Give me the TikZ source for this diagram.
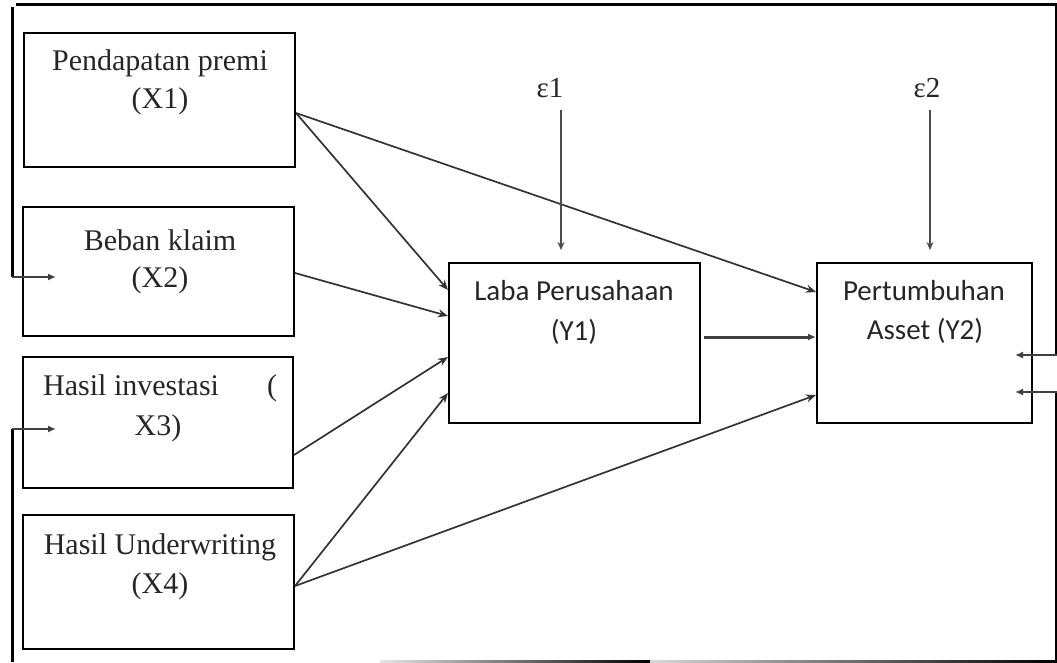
\documentclass[tikz,border=0pt]{standalone}
\usepackage{fontspec}
\setmainfont{Liberation Serif}
\newfontfamily\calibrifont{Carlito}
\usetikzlibrary{arrows.meta}
\begin{document}
\begin{tikzpicture}[x=1pt,y=-1pt,
  box/.style={draw=black, line width=2pt, inner sep=0pt},
  lbl/.style={anchor=base, inner sep=0pt, text=black!85, font=\fontsize{30}{36}\selectfont},
  ylbl/.style={anchor=base, inner sep=0pt, text=black!85, font=\calibrifont\fontsize{29}{35}\selectfont},
  arr/.style={-{Stealth[length=10pt,width=8pt]}, line width=1.7pt, draw=black!80},
  earr/.style={-{Stealth[length=8pt,width=7pt]}, line width=1.4pt, draw=black!70},
  sarr/.style={-{Latex[length=8pt,width=7pt]}, line width=2.2pt, draw=black!75},
  frame/.style={line width=3pt, draw=black}
]
\useasboundingbox (0,0) rectangle (1057,663);

% exogenous variables
\node[box, minimum width=271pt, minimum height=134pt] (x1) at (159.5,100) {};
\node[box, minimum width=271pt, minimum height=129pt] (x2) at (158.5,271.5) {};
\node[box, minimum width=270pt, minimum height=131pt] (x3) at (158,422.5) {};
\node[box, minimum width=271pt, minimum height=134pt] (x4) at (158.5,582) {};

% endogenous variables
\node[box, minimum width=251pt, minimum height=160pt] (y1) at (574.5,343) {};
\node[box, minimum width=215pt, minimum height=160pt] (y2) at (924.5,343) {};

% labels
\node[lbl] (x1a) at (160,71) {Pendapatan premi};
\node[lbl] (x1b) at (160,109) {(X1)};
\node[lbl] (x2a) at (160,250) {Beban klaim};
\node[lbl] (x2b) at (160,287) {(X2)};
\node[lbl, anchor=base west] (x3a) at (43,395) {Hasil investasi};
\node[lbl] (x3b) at (272,395) {(};
\node[lbl] (x3c) at (158,435) {X3)};
\node[lbl] (x4a) at (160,554) {Hasil Underwriting};
\node[lbl] (x4b) at (160,593) {(X4)};

\node[ylbl] (y1a) at (574,300) {Laba Perusahaan};
\node[ylbl] (y1b) at (574,340) {(Y1)};
\node[ylbl] (y2a) at (924,300) {Pertumbuhan};
\node[ylbl] (y2b) at (925,339) {Asset (Y2)};

\node[lbl, font=\fontsize{29}{34}\selectfont] (e1) at (550,98) {ε1};
\node[lbl, font=\fontsize{29}{34}\selectfont] (e2) at (927,98) {ε2};

% paths
\draw[arr] ([yshift=-13pt]x1.east) -- ([yshift=53pt]y1.west);
\draw[arr] ([yshift=-13pt]x1.east) -- ([yshift=51pt]y2.west);
\draw[arr] ([yshift=-1.5pt]x2.east) -- ([yshift=27pt]y1.west);
\draw[arr] ([yshift=-32.5pt]x3.east) -- ([yshift=-14pt]y1.west);
\draw[arr] ([yshift=-4pt]x4.east) -- ([yshift=-50pt]y1.west);
\draw[arr] ([yshift=-4pt]x4.east) -- ([yshift=-52pt]y2.west);
\draw[sarr, line width=3pt] ([xshift=3pt,yshift=6pt]y1.east) -- ([yshift=6pt]y2.west);

% error terms
\draw[earr, shorten >=12pt] ([xshift=11pt,yshift=-12pt]e1.base) -- ([xshift=11pt]e1.base |- y1.north);
\draw[earr, shorten >=12pt] ([xshift=3pt,yshift=-12pt]e2.base) -- ([xshift=3pt]e2.base |- y2.north);

% frame lines
\coordinate (tl) at (16,5);
\coordinate (tr) at (1057,5);
\draw[frame] (tl) -- (tr);

\coordinate (la) at (12,7);
\coordinate (lb) at (12,277);
\draw[frame] (la) -- (lb);
\draw[sarr] (lb) -- ([xshift=34pt,yshift=-5.5pt]x2.west);

\coordinate (lc) at (12,429);
\coordinate (ld) at (12,662);
\draw[frame] (lc) -- (ld);
\draw[sarr] (lc) -- ([xshift=34pt,yshift=-6.5pt]x3.west);

\coordinate (ra) at (1056,5);
\coordinate (rb) at (1056,355);
\coordinate (rc) at (1056,392);
\coordinate (rd) at (1056,663);
\draw[line width=2.2pt] (ra) -- (rb);
\draw[line width=2.2pt] (rc) -- (rd);
\draw[sarr] (1057,355) -- ([xshift=-18pt,yshift=-12pt]y2.east);
\draw[sarr] (1057,392) -- ([xshift=-18pt,yshift=-49pt]y2.east);

% bottom rule
\shade[left color=black!10, right color=black] (380,660) rectangle (650,663);
\shade[left color=black!15, right color=black] (650,660) rectangle (1057,663);
\end{tikzpicture}
\end{document}
